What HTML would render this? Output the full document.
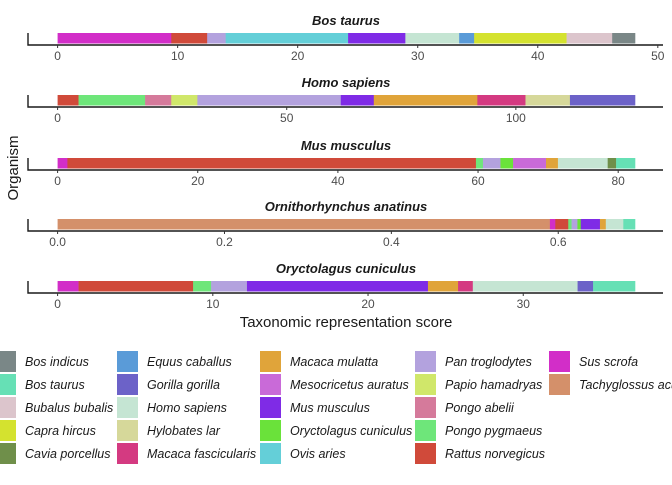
<!DOCTYPE html>
<html><head><meta charset="utf-8"><style>
body{margin:0;background:#fff;width:672px;height:480px;overflow:hidden;font-family:"Liberation Sans",sans-serif}
</style></head><body>
<svg id="c" width="672" height="480" xmlns="http://www.w3.org/2000/svg" font-family="Liberation Sans, sans-serif"></svg>
<script>
const speciesNames = ["Bos indicus","Bos taurus","Bubalus bubalis","Capra hircus","Cavia porcellus","Equus caballus","Gorilla gorilla","Homo sapiens","Hylobates lar","Macaca fascicularis","Macaca mulatta","Mesocricetus auratus","Mus musculus","Oryctolagus cuniculus","Ovis aries","Pan troglodytes","Papio hamadryas","Pongo abelii","Pongo pygmaeus","Rattus norvegicus","Sus scrofa","Tachyglossus aculeatus"];
const speciesColors = ["#7a8787","#66e0b5","#dcc5cc","#d4e22f","#6f8f4a","#5a9bd8","#6c62c8","#c5e5d3","#d6d89a","#d43a81","#e0a43a","#c96ad8","#7f2be6","#6ae23a","#64cfd8","#b3a2de","#d0e76a","#d57a9b","#6ee67a","#d04a3a","#d22ec8","#d4906a"];
const panelTitles = ["Bos taurus","Homo sapiens","Mus musculus","Ornithorhynchus anatinus","Oryctolagus cuniculus"];
const bosSpecies = ["Sus scrofa","Rattus norvegicus","Pan troglodytes","Ovis aries","Mus musculus","Homo sapiens","Equus caballus","Capra hircus","Bubalus bubalis","Bos indicus"];
const bosValues = [9.47,2.99,1.54,10.2,4.77,4.48,1.25,7.7,3.8,1.9];
const homoSpecies = ["Rattus norvegicus","Pongo pygmaeus","Pongo abelii","Papio hamadryas","Pan troglodytes","Mus musculus","Macaca mulatta","Macaca fascicularis","Hylobates lar","Gorilla gorilla"];
const homoValues = [4.57,14.53,5.7,5.7,31.3,7.2,22.6,10.5,9.7,14.2];
const musSpecies = ["Sus scrofa","Rattus norvegicus","Pongo pygmaeus","Pan troglodytes","Oryctolagus cuniculus","Mesocricetus auratus","Macaca mulatta","Homo sapiens","Cavia porcellus","Bos taurus"];
const musValues = [1.4,58.3,1.0,2.5,1.8,4.7,1.7,7.1,1.2,2.7];
const ornSpecies = ["Tachyglossus aculeatus","Sus scrofa","Rattus norvegicus","Pongo pygmaeus","Pan troglodytes","Oryctolagus cuniculus","Mus musculus","Macaca mulatta","Homo sapiens","Bos taurus"];
const ornValues = [0.590,0.0065,0.0155,0.004,0.007,0.004,0.023,0.007,0.021,0.014];
const oryctSpecies = ["Sus scrofa","Rattus norvegicus","Pongo pygmaeus","Pan troglodytes","Mus musculus","Macaca mulatta","Macaca fascicularis","Homo sapiens","Gorilla gorilla","Bos taurus"];
const oryctValues = [1.35,7.38,1.16,2.31,11.66,1.94,0.95,6.75,1.0,2.7];
const tickLabels0 = ["0","10","20","30","40","50"];
const tickLabels1 = ["0","50","100"];
const tickLabels2 = ["0","20","40","60","80"];
const tickLabels3 = ["0.0","0.2","0.4","0.6"];
const tickLabels4 = ["0","10","20","30"];

const NS="http://www.w3.org/2000/svg";
const svg=document.getElementById('c');
function mk(tag,attrs,parent){const e=document.createElementNS(NS,tag);for(const k in attrs)e.setAttribute(k,attrs[k]);(parent||svg).appendChild(e);return e;}
const panels=[
 {sp:bosSpecies,v:bosValues,ticks:tickLabels0,top:20},
 {sp:homoSpecies,v:homoValues,ticks:tickLabels1,top:82},
 {sp:musSpecies,v:musValues,ticks:tickLabels2,top:145},
 {sp:ornSpecies,v:ornValues,ticks:tickLabels3,top:206},
 {sp:oryctSpecies,v:oryctValues,ticks:tickLabels4,top:268}
];
const X0=57.6,AXL=28,AXR=663;
panels.forEach((p,i)=>{
  const g=mk('g',{});
  
  
  const total=p.v.reduce((a,b)=>a+b,0);
  const scale=(635-X0)/total;
  const xs=v=>X0+v*scale;
  const t=mk('text',{x:346,y:p.top+5,'text-anchor':'middle','font-size':13,'font-weight':'bold','font-style':'italic',fill:'#1a1a1a'},g);
  t.textContent=panelTitles[i];
  
  
  let acc=0;const by=p.top+13,bh=10.5;
  p.sp.forEach((s,j)=>{
    const r=mk('rect',{x:xs(acc),y:by,width:p.v[j]*scale+0.3,height:bh,fill:speciesColors[speciesNames.indexOf(s)]},g);
    
    
    acc+=p.v[j];
  });
  const ay=by+bh+1.5;
  const ax=mk('path',{d:`M${AXL} ${by} V${ay} H${AXR}`,stroke:'#1a1a1a','stroke-width':1.4,fill:'none'},g);
  
  
  p.ticks.forEach(tl=>{
    const tx=xs(parseFloat(tl));
    mk('line',{x1:tx,x2:tx,y1:ay,y2:ay+3,stroke:'#333','stroke-width':1},g);
    const lb=mk('text',{x:tx,y:ay+15,'text-anchor':'middle','font-size':12,fill:'#4d4d4d'},g);
    lb.textContent=tl;
    
    
  });
});
const yt=mk('text',{x:18,y:168,'text-anchor':'middle','font-size':15,fill:'#1a1a1a',transform:'rotate(-90 18 168)'});
yt.textContent='Organism';


const xt=mk('text',{x:346,y:327,'text-anchor':'middle','font-size':15,fill:'#1a1a1a'});
xt.textContent='Taxonomic representation score';


const colKeyX=[-5,117,260,415,549];
speciesNames.forEach((s,i)=>{
  const col=Math.floor(i/5),row=i%5;
  const kx=colKeyX[col],ky=351+row*23;
  const g=mk('g',{});
  
  
  mk('rect',{x:kx,y:ky,width:21,height:21,fill:speciesColors[i]},g);
  const tx=mk('text',{x:kx+30,y:ky+15,'font-size':12.5,'font-style':'italic',fill:'#1a1a1a'},g);
  tx.textContent=s;
});
</script>
</body></html>
